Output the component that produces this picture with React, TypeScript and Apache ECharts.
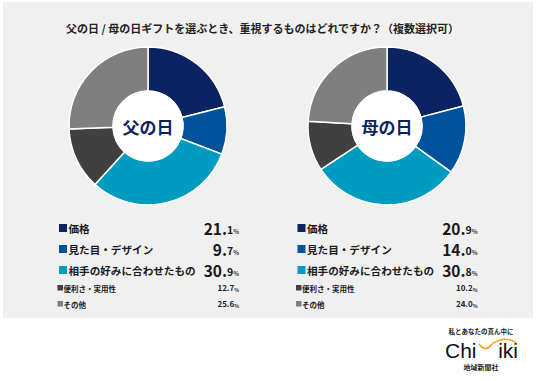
import React, { useEffect, useRef } from "react";
import * as echarts from "echarts";

const categories = ["価格", "見た目・デザイン", "相手の好みに合わせたもの", "便利さ・実用性", "その他"];
const fatherValues = [21.1, 9.7, 30.9, 12.7, 25.6];
const motherValues = [20.9, 14.0, 30.8, 10.2, 24.0];
const pieNames = ["父の日", "母の日"];
const titleText = "父の日 / 母の日ギフトを選ぶとき、重視するものはどれですか？（複数選択可）";
const colors = ["#0b2360", "#00529b", "#009bc0", "#404040", "#7f7f7f"];

const FONT = '"Noto Sans CJK JP", "Noto Sans", sans-serif';

let ctx: CanvasRenderingContext2D | null = null;
function measure(text: string, font: string): number {
  if (!ctx) ctx = document.createElement("canvas").getContext("2d");
  ctx!.font = font;
  return ctx!.measureText(text).width;
}

function txt(x: number, y: number, text: string, font: string, fill: string, align = "left", va = "middle"): any {
  return { type: "text", x, y, style: { text, font, fill, align, verticalAlign: va } };
}

// text placed so its baseline sits at `base` (middle-aligned, shifted by ~0.38em)
function baseTxt(x: number, base: number, text: string, size: number, fill: string): any {
  return txt(x, base - 0.38 * size, text, `bold ${size}px ${FONT}`, fill, "right", "middle");
}

function legendElements(values: number[], x0: number): any[] {
  const els: any[] = [];
  const rowY = [228, 249, 270, 288, 304];
  values.forEach((v, i) => {
    const y = rowY[i];
    const big = i < 3;
    const s = v.toFixed(1);
    const [ip, dp] = s.split(".");
    const right = x0 + 180;
    if (big) {
      els.push({
        type: "rect",
        shape: { x: x0, y: y - 4, width: 8, height: 8 },
        style: { fill: colors[i] },
      });
      els.push(txt(x0 + 9.5, y, categories[i], `bold 10.6px ${FONT}`, "#1a1a1a"));
      const sp = 6, sd = 10.5, si = 15.5;
      const base = y + 5.5;
      const wp = measure("%", `bold ${sp}px ${FONT}`);
      const wd = measure(dp, `bold ${sd}px ${FONT}`);
      els.push(baseTxt(right, base, "%", sp, "#333"));
      els.push(baseTxt(right - wp, base, dp, sd, "#1a1a1a"));
      els.push(baseTxt(right - wp - wd, base, ip + ".", si, "#1a1a1a"));
    } else {
      els.push({
        type: "rect",
        shape: { x: x0 - 1.5, y: y - 3, width: 5.5, height: 5.5 },
        style: { fill: colors[i] },
      });
      els.push(txt(x0 + 4.5, y, categories[i], `bold 7.5px ${FONT}`, "#222"));
      const sp = 5, sa = 8;
      const base = y + 3;
      const wp = measure("%", `bold ${sp}px ${FONT}`);
      els.push(baseTxt(right, base, "%", sp, "#333"));
      els.push(baseTxt(right - wp, base, s, sa, "#222"));
    }
  });
  return els;
}

function donut(values: number[], cx: number, name: string): any[] {
  return [
    {
      type: "pie",
      name,
      center: [cx, 126],
      radius: [35, 79],
      startAngle: 90,
      clockwise: true,
      silent: true,
      label: { show: false },
      labelLine: { show: false },
      itemStyle: { borderColor: "#ffffff", borderWidth: 1.5 },
      data: values.map((v, i) => ({ name: categories[i], value: v, itemStyle: { color: colors[i] } })),
    },
    {
      type: "pie",
      center: [cx, 126],
      radius: [0, 35.5],
      silent: true,
      labelLine: { show: false },
      label: {
        show: true,
        position: "center",
        formatter: name,
        color: "#0b2360",
        fontSize: 17,
        fontWeight: "bold",
        fontFamily: FONT,
      },
      itemStyle: { color: "#ffffff", borderWidth: 0 },
      data: [{ name, value: 1 }],
    },
  ];
}

export default function App() {
  const ref = useRef<HTMLDivElement>(null);
  useEffect(() => {
    document.body.style.margin = "0";
    const chart = echarts.init(ref.current!, null, { renderer: "svg" });
    chart.setOption({
      animation: false,
      backgroundColor: "#ffffff",
      graphic: [
        {
          type: "rect",
          z: -10,
          shape: { x: 3, y: 2, width: 530, height: 316 },
          style: { fill: "#f0f0f0" },
        },
        txt(262.5, 27.5, titleText, `bold 11px ${FONT}`, "#222", "center"),
        ...legendElements(fatherValues, 59),
        ...legendElements(motherValues, 297.5),
        txt(481, 331, "私とあなたの真ん中に", `bold 6.5px ${FONT}`, "#222", "center"),
        txt(445, 350, "Chi", `21px "Liberation Sans", sans-serif`, "#111"),
        txt(518, 350, "iki", `21px "Liberation Sans", sans-serif`, "#111", "right"),
        {
          type: "bezierCurve",
          shape: { x1: 479, y1: 344, x2: 492, y2: 344, cpx1: 485.5, cpy1: 353 },
          style: { stroke: "#f5a623", lineWidth: 1.8, fill: "none" },
        },
        {
          type: "bezierCurve",
          shape: { x1: 492, y1: 344, x2: 517, y2: 343, cpx1: 505, cpy1: 335 },
          style: { stroke: "#f5a623", lineWidth: 1.5, fill: "none" },
        },
        txt(481, 367, "地域新聞社", `bold 7px ${FONT}`, "#222", "center"),
      ],
      series: [...donut(fatherValues, 148, pieNames[0]), ...donut(motherValues, 387, pieNames[1])],
    });
    return () => chart.dispose();
  }, []);
  return (
    <div
      ref={ref}
      style={{ position: "absolute", left: 0, top: 0, width: 536, height: 381 }}
    />
  );
}
